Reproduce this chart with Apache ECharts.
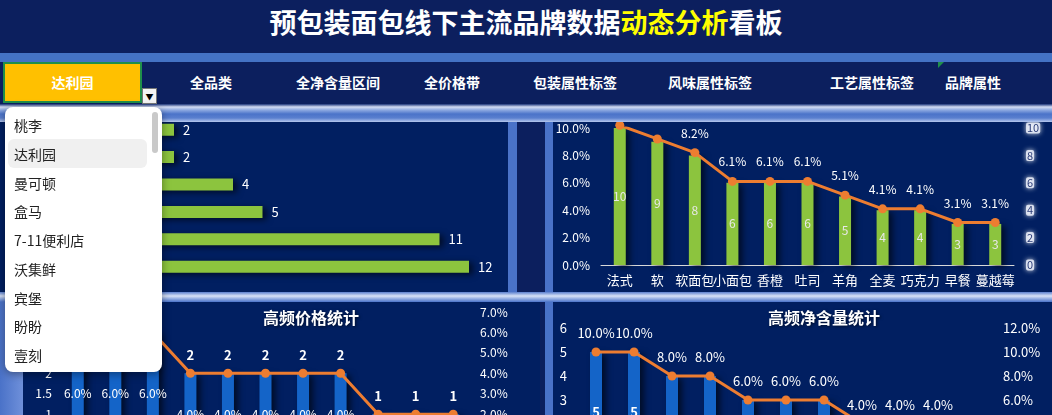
<!DOCTYPE html>
<html>
<head>
<meta charset="utf-8">
<script src="https://cdn.jsdelivr.net/npm/echarts@6.0.0/dist/echarts.min.js"></script>
<style>
html, body { margin: 0; padding: 0; width: 1052px; height: 415px; overflow: hidden; background: #0c1f5e; font-family: "Noto Sans CJK SC", sans-serif; }
.abs { position: absolute; }
#title { left: 0; top: 0; width: 1052px; height: 53px; line-height: 44px; text-align: center; color: #fff; font-size: 27px; font-weight: bold; }
#title span { color: #ffff00; }
#strip { left: 0; top: 53px; width: 1052px; height: 9px; background: #4472c4; }
.tab { position: absolute; top: 62px; height: 41px; line-height: 41px; color: #fff; font-size: 14px; font-weight: bold; transform: translateX(-50%); white-space: nowrap; }
#sel { left: 3px; top: 62px; width: 135px; height: 37px; background: #ffc000; border: 2px solid #1f8f4a; color: #fff; font-size: 14px; font-weight: bold; text-align: center; line-height: 37px; }
#arrow { left: 142px; top: 88px; width: 13px; height: 14px; background: #f4f4f4; border: 1px solid #777; color: #000; font-size: 8px; line-height: 15px; text-align: center; }
#mark { left: 938px; top: 62px; width: 0; height: 0; border-top: 6px solid #1f8f4a; border-right: 6px solid transparent; }
.band1 { left: 0; top: 104px; width: 1052px; height: 18px; background: linear-gradient(to bottom, #1a3278 0px, #d3dcf3 3px, #8ea9e1 6px, #4b73c9 10px, #5a7fcf 14px, #b6c8ee 18px); }
.band2 { left: 0; top: 292px; width: 1052px; height: 10px; background: linear-gradient(to bottom, #5c80d0 0px, #d8e2f6 4px, #8ea9e1 7px, #4b73c9 10px); }
.panel { background: #011f61; }
.side { background: #4a72c8; }
#drop { left: 5px; top: 107px; width: 157px; height: 265px; background: #fff; border-radius: 8px; box-shadow: 0 2px 8px rgba(0,0,0,0.4); z-index: 20; overflow: hidden; }
#drop .item { position: absolute; left: 9px; height: 29px; line-height: 29px; font-size: 14px; color: #222; }
#drop .hl { position: absolute; left: 3px; top: 32px; width: 139px; height: 29px; background: #f0f0f0; border-radius: 6px; }
#drop .bar { position: absolute; left: 147px; top: 5px; width: 6px; height: 41px; background: #c9c9c9; border-radius: 3px; }
.chart { position: absolute; }
</style>
</head>
<body>
<div id="title" class="abs">预包装面包线下主流品牌数据<span>动态分析</span>看板</div>
<div id="strip" class="abs"></div>
<div id="sel" class="abs">达利园</div>
<div id="arrow" class="abs">▼</div>
<div id="mark" class="abs"></div>

<div class="abs panel" style="left:0;top:122px;width:508px;height:170px"></div>
<div class="abs side" style="left:508px;top:122px;width:9px;height:170px"></div>
<div class="abs side" style="left:545px;top:122px;width:8px;height:170px"></div>
<div class="abs panel" style="left:553px;top:122px;width:499px;height:170px"></div>
<div class="abs" style="left:0;top:302px;width:23px;height:120px;background:linear-gradient(to right,#4a72c8,#6f90da)"></div>
<div class="abs panel" style="left:23px;top:302px;width:517px;height:120px"></div>
<div class="abs side" style="left:545px;top:302px;width:8px;height:120px"></div>
<div class="abs panel" style="left:553px;top:302px;width:499px;height:120px"></div>

<div id="c1" class="chart" style="left:0;top:110px;width:508px;height:182px"></div>
<div id="c2" class="chart" style="left:540px;top:122px;width:512px;height:170px"></div>
<div id="c3" class="chart" style="left:0;top:302px;width:540px;height:190px"></div>
<div id="c4" class="chart" style="left:540px;top:302px;width:512px;height:190px"></div>

<div class="abs band1"></div>
<div class="abs band2"></div>

<div id="drop" class="abs"><div class="hl"></div><div class="bar"></div></div>

<script>
// 顶部标签
var tabNames = ['全品类', '全净含量区间', '全价格带', '包装属性标签', '风味属性标签', '工艺属性标签', '品牌属性']
var tabX = [211, 338, 452, 575, 710, 872, 973]
// 下拉品牌
var brandList = ['桃李', '达利园', '曼可顿', '盒马', '7-11便利店', '沃集鲜', '宾堡', '盼盼', '壹刻']

// 左上：包装属性 (类目名被下拉框遮住)
var packCats = ['袋装', '盒装', '独立包装', '组合装', '量贩装', '散装']
var packValues = [2, 2, 4, 5, 11, 12]

// 右上：工艺/口味标签
var tagCats = ['法式', '软', '软面包', '小面包', '香橙', '吐司', '羊角', '全麦', '巧克力', '早餐', '蔓越莓']
var tagCounts = [10, 9, 8, 6, 6, 6, 5, 4, 4, 3, 3]
var tagPct = [10.2, 9.2, 8.2, 6.1, 6.1, 6.1, 5.1, 4.1, 4.1, 3.1, 3.1]

// 左下：高频价格
var priceCats = ['5.9', '6.9', '9.9', '3.9', '4.5', '7.9', '8.9', '12.9', '2.5', '10.9', '15.9']
var priceCounts = [3, 3, 3, 2, 2, 2, 2, 2, 1, 1, 1]
var pricePct = [6.0, 6.0, 6.0, 4.0, 4.0, 4.0, 4.0, 4.0, 2.0, 2.0, 2.0]

// 右下：高频净含量
var netCats = ['80g', '60g', '100g', '150g', '200g', '50g', '120g', '240g', '300g', '400g', '90g']
var netCounts = [5, 5, 4, 4, 3, 3, 3, 2, 2, 2, 1]
var netPct = [10.0, 10.0, 8.0, 8.0, 6.0, 6.0, 6.0, 4.0, 4.0, 4.0, 2.0]

var fontFamily = 'Noto Sans CJK SC'
var green = '#8cc43e'
var blue = '#1464c8'
var orange = '#ed7d31'
var barShadow = { shadowColor: 'rgba(0,0,0,0.6)', shadowBlur: 6, shadowOffsetX: 4, shadowOffsetY: 2 }

tabNames.forEach(function (t, i) {
  var d = document.createElement('div')
  d.className = 'tab'
  d.style.left = tabX[i] + 'px'
  d.textContent = t
  document.body.appendChild(d)
})
var drop = document.getElementById('drop')
brandList.forEach(function (b, i) {
  var d = document.createElement('div')
  d.className = 'item'
  d.style.top = (4 + i * 28.75) + 'px'
  d.textContent = b
  drop.appendChild(d)
})

function pctFmt(v) { return v.toFixed(1) + '%' }

// 左上
var c1 = echarts.init(document.getElementById('c1'))
c1.setOption({
  textStyle: { fontFamily: fontFamily },
  grid: { left: 115, top: 6, width: 383.5, height: 164.4 },
  xAxis: { type: 'value', min: 0, max: 13, show: false },
  yAxis: { type: 'category', data: packCats, inverse: true, show: false },
  series: [{
    type: 'bar',
    data: packValues,
    barWidth: 12,
    itemStyle: Object.assign({ color: green }, barShadow),
    label: { show: true, position: 'right', distance: 9, color: '#fff', fontSize: 13 }
  }]
})

// 右上
var c2 = echarts.init(document.getElementById('c2'))
c2.setOption({
  textStyle: { fontFamily: fontFamily },
  grid: { left: 61, right: 38, top: 4, height: 139 },
  xAxis: {
    type: 'category', data: tagCats,
    axisLine: { lineStyle: { color: '#d9d9d9' } },
    axisTick: { show: false },
    axisLabel: { color: '#fff', fontSize: 13, margin: 9, interval: 0 }
  },
  yAxis: [{
    type: 'value', min: 0, max: 10, interval: 2,
    splitLine: { show: false },
    axisLabel: { color: '#fff', fontSize: 12, margin: 11, formatter: function (v) { return v.toFixed(1) + '%' } }
  }, {
    type: 'value', min: 0, max: 10, interval: 2,
    splitLine: { show: false },
    axisLabel: {
      color: '#2a3c78', fontSize: 11, margin: 12,
      backgroundColor: 'rgba(235,240,250,0.85)', padding: [0, 1],
      borderRadius: 2, shadowColor: '#ffffff', shadowBlur: 5
    }
  }],
  series: [{
    type: 'bar',
    yAxisIndex: 1,
    data: tagCounts,
    barWidth: 12,
    itemStyle: Object.assign({ color: green }, barShadow),
    label: { show: true, position: 'inside', color: '#e8e8e8', fontSize: 12 }
  }, {
    type: 'line',
    yAxisIndex: 0,
    clip: false,
    data: tagPct.map(function (v, i) { return { value: v, label: { show: i > 1 } } }),
    symbol: 'circle',
    symbolSize: 9,
    lineStyle: { color: orange, width: 3 },
    itemStyle: { color: orange },
    label: { show: true, position: 'top', distance: 9, color: '#fff', fontSize: 12, formatter: function (p) { return pctFmt(p.value) } }
  }]
})

// 左下
var c3 = echarts.init(document.getElementById('c3'))
c3.setOption({
  textStyle: { fontFamily: fontFamily },
  title: { text: '高频价格统计', left: 263, top: 8, padding: 0, textStyle: { color: '#fff', fontSize: 16, fontWeight: 'bold', textShadowColor: 'rgba(0,0,0,0.6)', textShadowBlur: 3, textShadowOffsetX: 1, textShadowOffsetY: 1 } },
  grid: { left: 59, right: 68, top: 10, height: 143 },
  xAxis: {
    type: 'category', data: priceCats,
    axisLine: { lineStyle: { color: '#d9d9d9' } },
    axisTick: { show: false },
    axisLabel: { color: '#fff', fontSize: 12 }
  },
  yAxis: [{
    type: 'value', min: 0, max: 3.5, interval: 0.5,
    splitLine: { show: false },
    axisLabel: { color: '#fff', fontSize: 12, margin: 7 }
  }, {
    type: 'value', min: 0, max: 7, interval: 1,
    splitLine: { show: false },
    axisLabel: { color: '#fff', fontSize: 12, margin: 8, formatter: function (v) { return v.toFixed(1) + '%' } }
  }],
  series: [{
    type: 'bar',
    yAxisIndex: 0,
    data: priceCounts,
    barWidth: 12,
    itemStyle: Object.assign({ color: blue }, barShadow),
    label: { show: true, position: 'inside', color: '#fff', fontSize: 12, formatter: function (p) { return pctFmt(pricePct[p.dataIndex]) } }
  }, {
    type: 'line',
    yAxisIndex: 1,
    data: pricePct,
    symbol: 'circle',
    symbolSize: 9,
    lineStyle: { color: orange, width: 3 },
    itemStyle: { color: orange },
    label: { show: true, position: 'top', distance: 7, color: '#fff', fontSize: 13, fontWeight: 'bold', formatter: function (p) { return priceCounts[p.dataIndex] } }
  }]
})

// 右下
var c4 = echarts.init(document.getElementById('c4'))
c4.setOption({
  textStyle: { fontFamily: fontFamily },
  title: { text: '高频净含量统计', left: 228, top: 8, padding: 0, textStyle: { color: '#fff', fontSize: 16, fontWeight: 'bold', textShadowColor: 'rgba(0,0,0,0.6)', textShadowBlur: 3, textShadowOffsetX: 1, textShadowOffsetY: 1 } },
  grid: { left: 37, right: 57, top: 26, height: 144 },
  xAxis: {
    type: 'category', data: netCats,
    axisLine: { lineStyle: { color: '#d9d9d9' } },
    axisTick: { show: false },
    axisLabel: { color: '#fff', fontSize: 12 }
  },
  yAxis: [{
    type: 'value', min: 0, max: 6, interval: 1,
    splitLine: { show: false },
    axisLabel: { color: '#fff', fontSize: 13, margin: 10 }
  }, {
    type: 'value', min: 0, max: 12, interval: 2,
    splitLine: { show: false },
    axisLabel: { color: '#fff', fontSize: 13, margin: 8, formatter: function (v) { return v.toFixed(1) + '%' } }
  }],
  series: [{
    type: 'bar',
    yAxisIndex: 0,
    data: netCounts,
    barWidth: 12,
    itemStyle: Object.assign({ color: blue }, barShadow),
    label: { show: true, position: 'inside', color: '#fff', fontSize: 13, fontWeight: 'bold' }
  }, {
    type: 'line',
    yAxisIndex: 1,
    data: netPct,
    symbol: 'circle',
    symbolSize: 9,
    lineStyle: { color: orange, width: 3 },
    itemStyle: { color: orange },
    label: { show: true, position: 'top', distance: 8, color: '#fff', fontSize: 13, formatter: function (p) { return pctFmt(p.value) } }
  }]
})
</script>
</body>
</html>
